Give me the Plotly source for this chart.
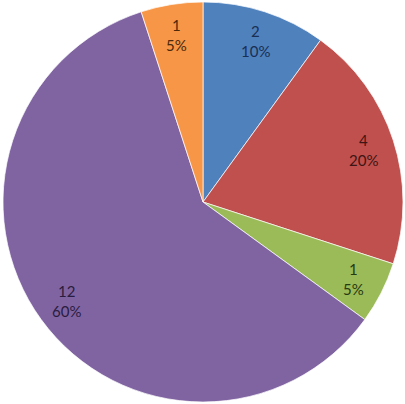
import math
import plotly.graph_objects as go

values = [2, 4, 1, 12, 1]
labels = ["A", "B", "C", "D", "E"]
colors = ["#4F81BD", "#C0504D", "#9BBB59", "#8064A2", "#F79646"]
text_colors = ["#1a2f52", "#3d1515", "#283a12", "#2a1c40", "#4a2a0c"]

W, H = 405, 404
cx, cy, R = 203, 202, 200

fig = go.Figure(go.Pie(
    labels=labels, values=values, sort=False, direction="clockwise", rotation=0,
    marker=dict(colors=colors, line=dict(color="rgba(255,255,255,0.7)", width=1)),
    textinfo="none", hoverinfo="skip", showlegend=False,
    domain=dict(x=[(cx - R) / W, (cx + R) / W], y=[(H - cy - R) / H, (H - cy + R) / H]),
))

total = sum(values)
cum = 0
for v, tc in zip(values, text_colors):
    mid = (cum + v / 2) / total * 2 * math.pi
    cum += v
    r = 0.845 * R
    px = cx + r * math.sin(mid)
    py = cy - r * math.cos(mid)
    for line, dy in ((str(v), -10), (f"{round(v / total * 100)}%", 10)):
        fig.add_annotation(
            x=px / W, y=1 - (py + dy) / H, xref="paper", yref="paper",
            text=line, showarrow=False,
            font=dict(family="Lato, Carlito, sans-serif", size=15, color=tc),
            align="center", xanchor="center", yanchor="middle",
        )

fig.update_layout(
    width=W, height=H, margin=dict(l=0, r=0, t=0, b=0),
    paper_bgcolor="white", plot_bgcolor="white",
)
fig.write_html("out.html", config={"displayModeBar": False},
               post_script="document.body.style.margin='0';document.body.style.overflow='hidden';")
